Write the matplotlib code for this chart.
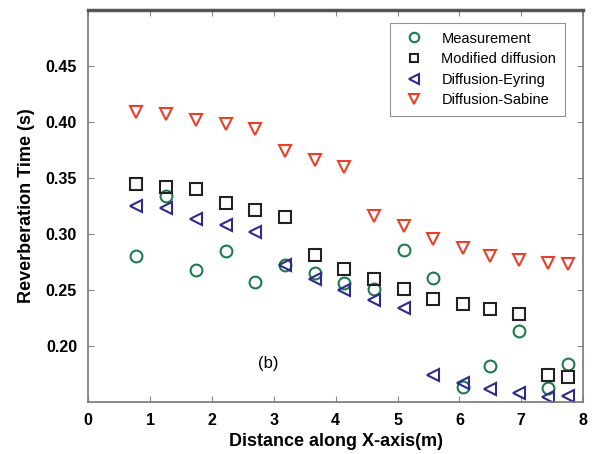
import numpy as np
import matplotlib.pyplot as plt

plt.rcParams['font.family'] = ['Liberation Sans', 'DejaVu Sans']

# positions along the x-axis (m)
x_pos = [0.78, 1.26, 1.74, 2.22, 2.70, 3.18, 3.66, 4.14,
         4.62, 5.10, 5.58, 6.06, 6.50, 6.96, 7.44, 7.76]

# reverberation times (s)
measurement = [0.280, 0.334, 0.268, 0.285, 0.257, 0.272, 0.265, 0.256,
               0.251, 0.286, 0.261, 0.163, 0.182, 0.213, 0.162, 0.184]
modified_diffusion = [0.345, 0.342, 0.340, 0.328, 0.321, 0.315, 0.281, 0.269,
                      0.260, 0.251, 0.242, 0.237, 0.233, 0.228, 0.174, 0.172]
diffusion_eyring = [0.325, 0.323, 0.313, 0.308, 0.302, 0.272, 0.260, 0.250,
                    0.241, 0.234, 0.174, 0.167, 0.161, 0.158, 0.154, 0.155]
diffusion_sabine = [0.409, 0.407, 0.402, 0.398, 0.394, 0.374, 0.366, 0.360,
                    0.316, 0.307, 0.295, 0.287, 0.280, 0.277, 0.274, 0.273]

fig = plt.figure(figsize=(5.92, 4.54), dpi=100)
ax = fig.add_axes([0.149, 0.115, 0.836, 0.863])

ms = 8.5
ax.plot(x_pos, measurement, 'o', ms=ms, mfc='none', mec='#1f7a4c', mew=1.5, label='Measurement')
ax.plot(x_pos, modified_diffusion, 's', ms=ms - 0.5, mfc='none', mec='#222222', mew=1.5,
        label='Modified diffusion')
ax.plot(x_pos, diffusion_eyring, '<', ms=ms, mfc='none', mec='#2f2b8c', mew=1.5, label='Diffusion-Eyring')
ax.plot(x_pos, diffusion_sabine, 'v', ms=ms, mfc='none', mec='#e8402a', mew=1.5, label='Diffusion-Sabine')

ax.set_xlim(0, 8)
ax.set_ylim(0.15, 0.5)
ax.set_xticks(np.arange(0, 9, 1))
ax.set_yticks([0.20, 0.25, 0.30, 0.35, 0.40, 0.45])
ax.set_yticklabels(['0.20', '0.25', '0.30', '0.35', '0.40', '0.45'])
ax.tick_params(direction='in', top=True, right=True, length=4, width=0.8,
               color='#888888', labelsize=11.5, pad=8)
for lab in ax.get_xticklabels() + ax.get_yticklabels():
    lab.set_fontweight('bold')

for side in ['left', 'bottom', 'right']:
    ax.spines[side].set_color('#777777')
    ax.spines[side].set_linewidth(1.2)
ax.spines['top'].set_color('#555555')
ax.spines['top'].set_linewidth(2.5)

ax.set_xlabel('Distance along X-axis(m)', fontsize=13, fontweight='bold', labelpad=4)
ax.set_ylabel('Reverberation Time (s)', fontsize=13, fontweight='bold', labelpad=8)

ax.text(2.91, 0.184, '(b)', fontsize=12, ha='center', va='center')

leg = ax.legend(loc='upper right', bbox_to_anchor=(0.978, 0.986), fontsize=10.5,
                frameon=True, fancybox=False, edgecolor='#777777', handletextpad=0.9,
                borderpad=0.6, labelspacing=0.45, markerscale=0.8)
leg.get_frame().set_linewidth(0.8)

fig.savefig('out.png', dpi=100)
